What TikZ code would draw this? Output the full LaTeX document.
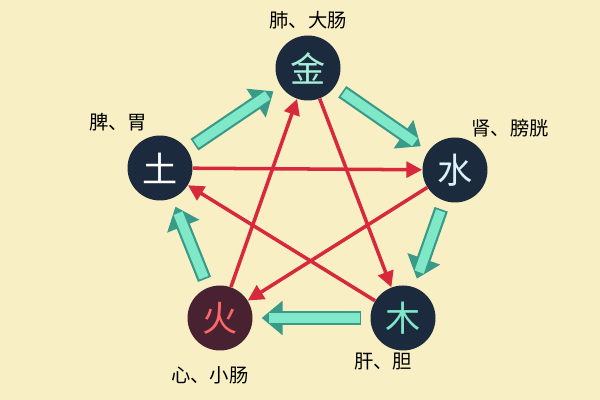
\documentclass[tikz,border=0pt]{standalone}
\usepackage{fontspec}
\newfontfamily\cjk{Noto Sans CJK SC}
\usetikzlibrary{arrows.meta}

\definecolor{paper}{HTML}{F8F0C4}
\definecolor{navy}{HTML}{1C2A3E}
\definecolor{jade}{HTML}{7FE8C8}
\definecolor{jadeedge}{HTML}{3A9A88}
\definecolor{star}{HTML}{D8283C}

\tikzset{
  element/.style={circle, fill=navy, minimum size=1.3cm, inner sep=0pt, font=\cjk\fontsize{20}{20}\selectfont},
  organ/.style={font=\cjk\fontsize{11}{11}\selectfont, text=black},
  feed/.style={draw=jadeedge, line width=8pt, shorten <=5pt, shorten >=5pt,
    -{Triangle[length=12pt,width=19pt]}, postaction={draw=jade, line width=5.5pt, shorten <=6pt, shorten >=9pt, -}},
  curb/.style={draw=star, line width=2pt, -{Triangle[length=9pt,width=9pt]}}
}

\begin{document}
\begin{tikzpicture}

\fill[paper] (0,0) rectangle (12,8);

\node[element, text=jade!70!white]  (metal) at (6.16,6.64) {金};
\node[element, text=white!85!cyan]  (water) at (9.1,4.6) {水};
\node[element, text=jade]           (wood)  at (8.06,1.64) {木};
\node[element, fill=navy!80!red, text=red!60!white] (fire) at (4.4,1.64) {火};
\node[element, text=white]          (earth) at (3.2,4.64) {土};

\node[organ] (lung)    at (6.16,7.6) {肺、大肠};
\node[organ] (kidney)  at (10.2,5.44) {肾、膀胱};
\node[organ] (liver)   at (7.66,0.76) {肝、胆};
\node[organ] (heart)   at (4.2,0.5) {心、小肠};
\node[organ] (spleen)  at (2.36,5.56) {脾、胃};

% generating cycle
\draw[feed] (earth) -- (metal);
\draw[feed] (metal) -- (water);
\draw[feed] (water) -- (wood);
\draw[feed] (wood)  -- (fire);
\draw[feed] (fire)  -- (earth);

% restraining star
\draw[curb] (metal) -- (wood);
\draw[curb] (wood)  -- (earth);
\draw[curb] (earth) -- (water);
\draw[curb] (water) -- (fire);
\draw[curb] (fire)  -- (metal);

\end{tikzpicture}
\end{document}
